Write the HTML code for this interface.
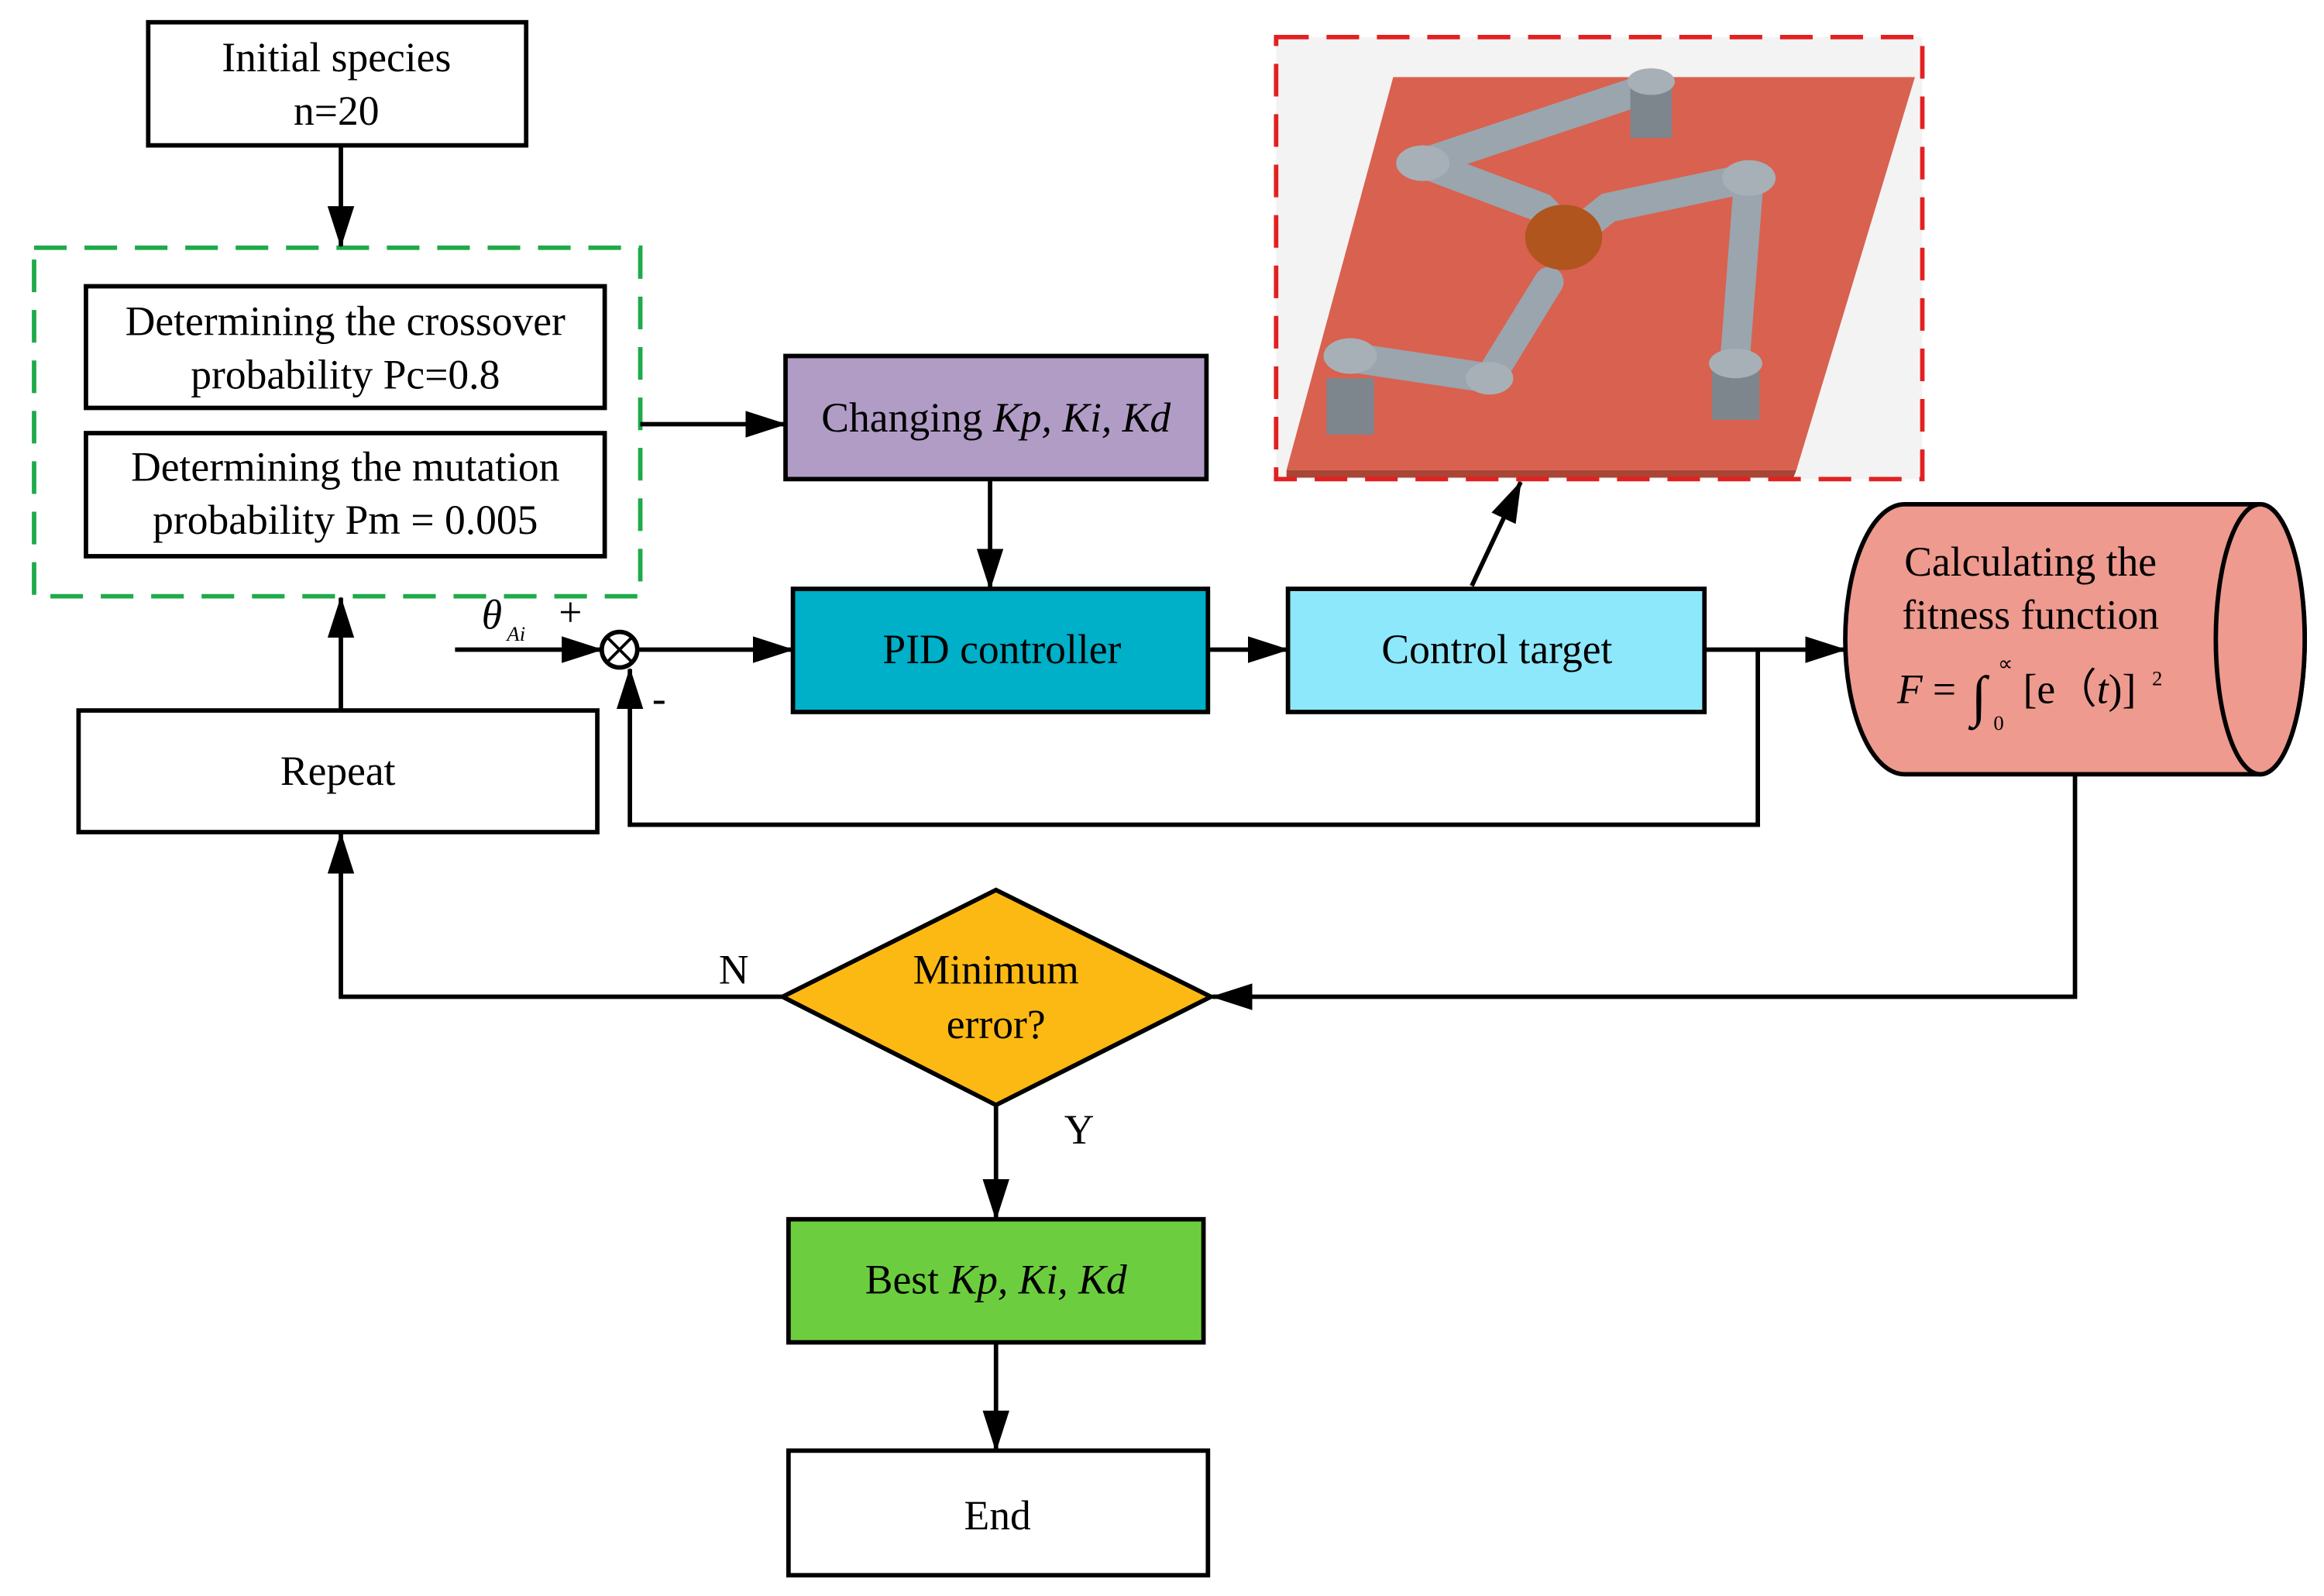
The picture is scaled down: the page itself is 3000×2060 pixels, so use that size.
<!DOCTYPE html>
<html><head><meta charset="utf-8"><style>
html,body{margin:0;padding:0;background:#fff;}
svg{display:block;}
text{font-family:"Liberation Serif",serif;fill:#000;}
</style></head><body>
<svg width="3000" height="2060" viewBox="0 0 1568 1076" preserveAspectRatio="none" xmlns="http://www.w3.org/2000/svg">
<defs>
<marker id="a" markerWidth="28" markerHeight="18" refX="27" refY="9" orient="auto" markerUnits="userSpaceOnUse" viewBox="0 0 28 18">
<path d="M0,0 L28,9 L0,18 z" fill="#000"/></marker>
</defs>
<rect x="861" y="25" width="436" height="298" fill="#f3f3f3"/>
<polygon points="940,52 1292,52 1212,317 868,317" fill="#d9614f"/>
<polygon points="868,317 1212,317 1210,322 868,322" fill="#a94535"/>
<g stroke="#9aa5ae" stroke-width="20" stroke-linecap="round" fill="none">
<polyline points="960,110 1110,60"/>
<polyline points="960,110 1040,140 1050,150"/>
<polyline points="1180,120 1085,140 1060,160"/>
<polyline points="1180,120 1170,250"/>
<polyline points="1045,190 1005,255"/>
<polyline points="1005,255 905,240"/>
</g>
<g fill="#7d868d">
<rect x="1100" y="55" width="28" height="38"/><ellipse cx="1114" cy="55" rx="16" ry="9" fill="#a7b0b7"/>
<rect x="1155" y="245" width="32" height="38"/><ellipse cx="1171" cy="245" rx="18" ry="10" fill="#a7b0b7"/>
<rect x="895" y="255" width="32" height="38"/><ellipse cx="911" cy="240" rx="18" ry="12" fill="#a7b0b7"/>
<ellipse cx="960" cy="110" rx="18" ry="12" fill="#a7b0b7"/>
<ellipse cx="1180" cy="120" rx="18" ry="12" fill="#a7b0b7"/>
<ellipse cx="1005" cy="255" rx="16" ry="11" fill="#a7b0b7"/>
</g>
<ellipse cx="1055" cy="160" rx="26" ry="22" fill="#b0551e"/>
<g stroke="#000" stroke-width="3" fill="none">
<rect x="100" y="15" width="255" height="83" fill="#fff"/>
<rect x="23" y="167" width="409" height="235" stroke="#1faa4a" stroke-dasharray="22,12"/>
<rect x="58" y="193" width="350" height="82" fill="#fff"/>
<rect x="58" y="292" width="350" height="83" fill="#fff"/>
<rect x="530" y="240" width="284" height="83" fill="#b19cc6"/>
<rect x="535" y="397" width="280" height="83" fill="#00afc8"/>
<rect x="869" y="397" width="281" height="83" fill="#8ee8fb"/>
<rect x="53" y="479" width="350" height="82" fill="#fff"/>
<rect x="532" y="822" width="280" height="83" fill="#6cce3f"/>
<rect x="532" y="978" width="283" height="84" fill="#fff"/>
<polygon points="528,672 672,600 817,672 672,745" fill="#fdb913"/>
<path d="M1285,340 L1525,340 A30,91 0 0 1 1525,522 L1285,522 A40,91 0 0 1 1285,340 Z" fill="#ee9a8f"/>
<ellipse cx="1525" cy="431" rx="30" ry="91" fill="#ee9a8f"/>
<line x1="230" y1="98" x2="230" y2="166" marker-end="url(#a)"/>
<line x1="432" y1="286" x2="530" y2="286" marker-end="url(#a)"/>
<line x1="668" y1="323" x2="668" y2="397" marker-end="url(#a)"/>
<line x1="815" y1="438" x2="869" y2="438" marker-end="url(#a)"/>
<line x1="993" y1="395" x2="1026" y2="325" marker-end="url(#a)"/>
<line x1="1150" y1="438" x2="1245" y2="438" marker-end="url(#a)"/>
<polyline points="1186,438 1186,556 425,556 425,451" marker-end="url(#a)"/>
<line x1="307" y1="438" x2="406" y2="438" marker-end="url(#a)"/>
<line x1="431" y1="438" x2="535" y2="438" marker-end="url(#a)"/>
<circle cx="418" cy="438" r="12" fill="#fff"/>
<line x1="409.5" y1="429.5" x2="426.5" y2="446.5" stroke-width="2"/>
<line x1="426.5" y1="429.5" x2="409.5" y2="446.5" stroke-width="2"/>
<polyline points="1400,522 1400,672 818,672" marker-end="url(#a)"/>
<polyline points="528,672 230,672 230,562" marker-end="url(#a)"/>
<line x1="230" y1="479" x2="230" y2="403" marker-end="url(#a)"/>
<line x1="672" y1="745" x2="672" y2="822" marker-end="url(#a)"/>
<line x1="672" y1="905" x2="672" y2="978" marker-end="url(#a)"/>
<rect x="861" y="25" width="436" height="298" stroke="#e32020" stroke-dasharray="22,12"/>
</g>
<g style="font-size:28px">
<text x="227" y="48" text-anchor="middle">Initial species</text>
<text x="227" y="84" text-anchor="middle">n=20</text>
<text x="233" y="226" text-anchor="middle">Determining the crossover</text>
<text x="233" y="262" text-anchor="middle">probability Pc=0.8</text>
<text x="233" y="324" text-anchor="middle">Determining the mutation</text>
<text x="233" y="360" text-anchor="middle">probability Pm = 0.005</text>
<text x="672" y="291" text-anchor="middle">Changing <tspan font-style="italic">Kp, Ki, Kd</tspan></text>
<text x="676" y="447" text-anchor="middle">PID controller</text>
<text x="1010" y="447" text-anchor="middle">Control target</text>
<text x="228" y="529" text-anchor="middle">Repeat</text>
<text x="672" y="663" text-anchor="middle">Minimum</text>
<text x="672" y="700" text-anchor="middle">error?</text>
<text x="672" y="872" text-anchor="middle">Best <tspan font-style="italic">Kp, Ki, Kd</tspan></text>
<text x="673" y="1031" text-anchor="middle">End</text>
<text x="1370" y="388" text-anchor="middle">Calculating the</text>
<text x="1370" y="424" text-anchor="middle">fitness function</text>
<text x="1280" y="474" font-style="italic">F</text>
<text x="1304" y="474">=</text>
<text x="1330" y="482" style="font-size:38px">∫</text>
<text x="1365" y="474">[e（<tspan font-style="italic">t</tspan>)]</text>
<text x="1452" y="462" style="font-size:14px">2</text>
<text x="1348" y="452" style="font-size:14px">∝</text>
<text x="1345" y="492" style="font-size:14px">0</text>
<text x="325" y="424" font-style="italic">θ</text>
<text x="342" y="432" font-style="italic" style="font-size:14px">Ai</text>
<text x="377" y="422">+</text>
<text x="440" y="480">-</text>
<text x="485" y="663">N</text>
<text x="718" y="771">Y</text>
</g>
</svg>
</body></html>
